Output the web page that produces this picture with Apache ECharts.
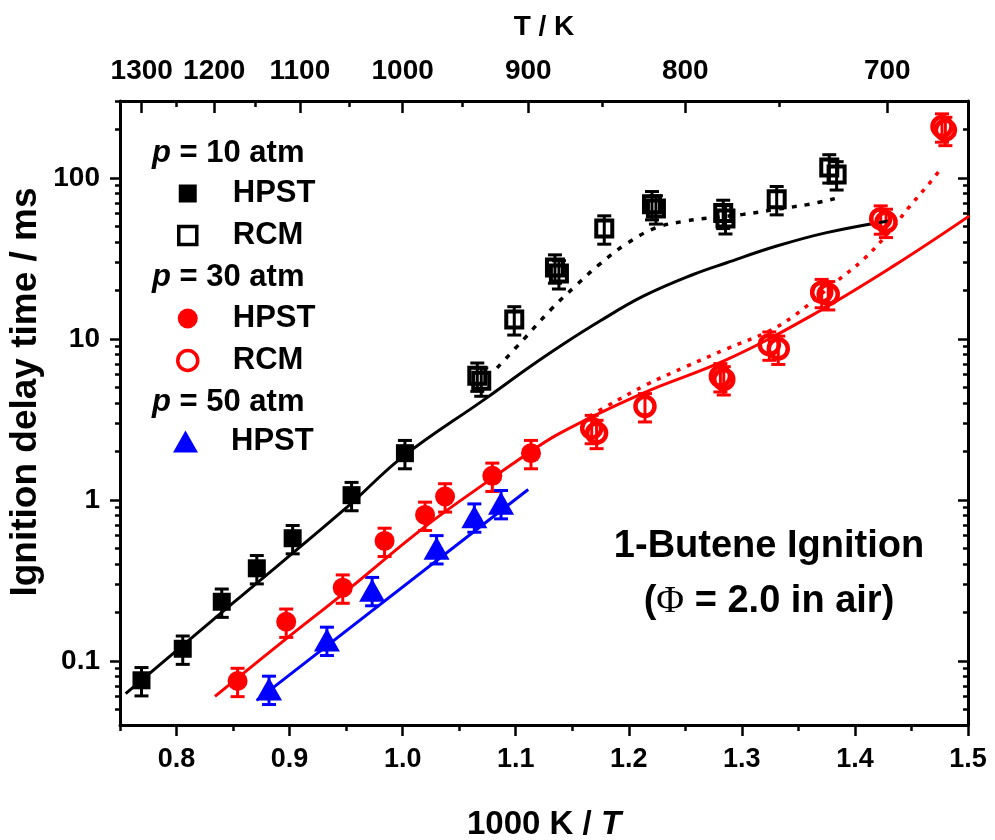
<!DOCTYPE html>
<html><head><meta charset="utf-8">
<script src="https://cdn.jsdelivr.net/npm/echarts@6/dist/echarts.min.js"></script>
<style>html,body{margin:0;padding:0;background:#fff}#c{width:995px;height:840px}</style>
</head><body><div id="c"></div>
<script>
const FONT = 'Liberation Sans';

// ---- tick definitions ----
const xMajorTicks = [0.8, 0.9, 1.0, 1.1, 1.2, 1.3, 1.4, 1.5];
const xMinorTicks = [0.75, 0.85, 0.95, 1.05, 1.15, 1.25, 1.35, 1.45];
const tempMajor = [1300, 1200, 1100, 1000, 900, 800, 700];
const tempMinor = [1250, 1150, 1050, 950, 850, 750];
const yMajorTicks = [0.1, 1, 10, 100];
const yMinorTicks = [0.05, 0.06, 0.07, 0.08, 0.09, 0.2, 0.3, 0.4, 0.5, 0.6, 0.7, 0.8, 0.9,
  2, 3, 4, 5, 6, 7, 8, 9, 20, 30, 40, 50, 60, 70, 80, 90, 200, 300];

// ---- experimental data (1000K/T, ignition delay in ms) ----
const hpst10X = [0.769, 0.8055, 0.840, 0.871, 0.9027, 0.9548, 1.002];
const hpst10Y = [0.0758, 0.119, 0.233, 0.376, 0.578, 1.07, 1.95];
const rcm10X = [1.066, 1.0695, 1.0987, 1.1347, 1.1382, 1.1783, 1.2205, 1.2240, 1.2835, 1.2855, 1.3308, 1.3773, 1.3838];
const rcm10Y = [5.9, 5.5, 13.2, 27.7, 25.5, 48.4, 68.5, 64.5, 60.5, 56, 73.6, 116, 105];
const hpst30X = [0.854, 0.897, 0.947, 0.984, 1.0198, 1.0375, 1.0793, 1.1135];
const hpst30Y = [0.075, 0.175, 0.285, 0.556, 0.807, 1.05, 1.41, 1.95];
const rcm30X = [1.1672, 1.1715, 1.2143, 1.2810, 1.2840, 1.3243, 1.3322, 1.3706, 1.3764, 1.4228, 1.4275, 1.4770, 1.4800];
const rcm30Y = [2.79, 2.6, 3.81, 5.85, 5.6, 9.2, 8.67, 19.5, 18.9, 55.8, 53.2, 208, 198];
const hpst50X = [0.8818, 0.933, 0.973, 1.030, 1.0634, 1.0870];
const hpst50Y = [0.067, 0.135, 0.275, 0.50, 0.787, 0.953];
const ERR_FRAC = 0.2;

// ---- model curves ----
const model10X = [0.755, 0.85, 0.95, 1.0, 1.0743, 1.1097, 1.1392, 1.1745, 1.2128, 1.257, 1.2866, 1.3308, 1.375, 1.4296];
const model10Y = [0.0627, 0.229, 0.891, 1.85, 4.30, 6.5, 9.0, 12.9, 18.4, 25.1, 29.7, 37.7, 45.7, 54.0];
const model10rcmX = [1.0835, 1.1068, 1.1311, 1.1547, 1.1735, 1.198, 1.2246, 1.2511, 1.2747, 1.3012, 1.3306, 1.3601, 1.3822];
const model10rcmY = [6.6, 9.9, 15.2, 21.9, 28.8, 39.0, 49.1, 54, 56.6, 59.3, 63.8, 68.6, 74.3];
const model30X = [0.834, 0.8974, 0.9475, 1.0198, 1.0793, 1.0997, 1.1392, 1.2128, 1.2866, 1.3603, 1.4339, 1.5012];
const model30Y = [0.0603, 0.138, 0.262, 0.682, 1.365, 1.72, 2.6, 4.61, 7.43, 13.8, 28.3, 58];
const model30rcmX = [1.165, 1.1804, 1.2158, 1.2512, 1.2866, 1.3219, 1.3455, 1.3838, 1.4074, 1.431, 1.4487, 1.4664, 1.4752];
const model30rcmY = [3.3, 3.81, 5.2, 6.75, 8.67, 11.0, 13.8, 22.8, 31.1, 46.7, 66.8, 93.5, 112];
const model50X = [0.8709, 1.111];
const model50Y = [0.0569, 1.16];

const pts = (xs, ys) => xs.map((x, i) => [x, ys[i]]);
const errs = (xs, ys) => xs.map((x, i) => [x, ys[i] * (1 - ERR_FRAC), ys[i] * (1 + ERR_FRAC)]);

function errRender(color) {
  return function (params, api) {
    const x = api.value(0);
    const pLo = api.coord([x, api.value(1)]);
    const pHi = api.coord([x, api.value(2)]);
    const hw = 7;
    const style = { stroke: color, lineWidth: 3 };
    return { type: 'group', children: [
      { type: 'line', shape: { x1: pLo[0], y1: pLo[1], x2: pHi[0], y2: pHi[1] }, style },
      { type: 'line', shape: { x1: pLo[0] - hw, y1: pLo[1], x2: pLo[0] + hw, y2: pLo[1] }, style },
      { type: 'line', shape: { x1: pHi[0] - hw, y1: pHi[1], x2: pHi[0] + hw, y2: pHi[1] }, style }
    ]};
  };
}
function errSeries(xs, ys, color) {
  return { type: 'custom', renderItem: errRender(color), data: errs(xs, ys), z: 1,
    encode: { x: 0, y: [1, 2] }, silent: true };
}

const lblStyle = { fontFamily: FONT, fontWeight: 'bold', color: '#000' };
const axisLineStyle = { show: true, onZero: false, lineStyle: { color: '#000', width: 3 } };
const noLine = { show: false };

const chart = echarts.init(document.getElementById('c'), null, { renderer: 'canvas' });
const legendText = { fontFamily: FONT, fontWeight: 'bold', fontSize: 31, color: '#000', lineHeight: 30, padding: [0, 0, 0, 31] };
const fmt = n => n.split(' ')[1];
const header = (txt, y) => ({ type: 'text', x: 152, y: y, style: { text: txt, fontFamily: FONT, fontWeight: 'bold', fontSize: 31, fill: '#000', verticalAlign: 'middle',
  rich: { i: { fontStyle: 'italic', fontWeight: 'bold', fontSize: 31, fontFamily: FONT } } } });

chart.setOption({
  animation: false,
  backgroundColor: '#fff',
  grid: { left: 120, right: 27, top: 101, bottom: 115, containLabel: false, outerBoundsMode: 'none' },
  xAxis: [
    { type: 'value', position: 'bottom', min: 0.75, max: 1.5,
      axisLine: axisLineStyle, splitLine: { show: false },
      axisTick: { customValues: xMajorTicks, inside: false, length: 11, lineStyle: { width: 2.5, color: '#000' } },
      axisLabel: Object.assign({ customValues: xMajorTicks, fontSize: 27, margin: 21, formatter: v => v.toFixed(1) }, lblStyle),
      name: '1000 K / {i|T}', nameLocation: 'middle', nameGap: 83,
      nameTextStyle: Object.assign({ fontSize: 33, rich: { i: { fontStyle: 'italic', fontWeight: 'bold', fontSize: 33, fontFamily: FONT } } }, lblStyle) },
    { type: 'value', position: 'bottom', min: 0.75, max: 1.5,
      axisLine: noLine, splitLine: { show: false }, axisLabel: { show: false },
      axisTick: { customValues: xMinorTicks, inside: false, length: 6, lineStyle: { width: 2.5, color: '#000' } } },
    { type: 'value', position: 'top', min: 0.75, max: 1.5,
      axisLine: axisLineStyle, splitLine: { show: false },
      axisTick: { customValues: tempMajor.map(T => 1000 / T), inside: true, length: 12, lineStyle: { width: 2.5, color: '#000' } },
      axisLabel: Object.assign({ customValues: tempMajor.map(T => 1000 / T), fontSize: 28, margin: 16, formatter: v => String(Math.round(1000 / v)) }, lblStyle),
      name: 'T / K', nameLocation: 'middle', nameGap: 60,
      nameTextStyle: Object.assign({ fontSize: 28 }, lblStyle) },
    { type: 'value', position: 'top', min: 0.75, max: 1.5,
      axisLine: noLine, splitLine: { show: false }, axisLabel: { show: false },
      axisTick: { customValues: tempMinor.map(T => 1000 / T), inside: true, length: 6, lineStyle: { width: 2.5, color: '#000' } } }
  ],
  yAxis: [
    { type: 'log', position: 'left', min: 0.04, max: 300,
      axisLine: axisLineStyle, splitLine: { show: false },
      axisTick: { customValues: yMajorTicks, inside: false, length: 10, lineStyle: { width: 2.5, color: '#000' } },
      axisLabel: Object.assign({ customValues: yMajorTicks, fontSize: 28, margin: 20, formatter: v => String(v) }, lblStyle) },
    { type: 'log', position: 'left', min: 0.04, max: 300,
      axisLine: noLine, splitLine: { show: false }, axisLabel: { show: false },
      axisTick: { customValues: yMinorTicks, inside: false, length: 5, lineStyle: { width: 2.5, color: '#000' } } },
    { type: 'log', position: 'right', min: 0.04, max: 300,
      axisLine: axisLineStyle, splitLine: { show: false }, axisLabel: { show: false },
      axisTick: { customValues: yMajorTicks, inside: true, length: 10, lineStyle: { width: 2.5, color: '#000' } } },
    { type: 'log', position: 'right', min: 0.04, max: 300,
      axisLine: noLine, splitLine: { show: false }, axisLabel: { show: false },
      axisTick: { customValues: yMinorTicks, inside: true, length: 5, lineStyle: { width: 2.5, color: '#000' } } }
  ],
  legend: [
    { orient: 'vertical', left: 177, top: 178, padding: 0, itemWidth: 18, itemHeight: 18, itemGap: 11,
      selectedMode: false, formatter: fmt, textStyle: legendText,
      data: [{ name: 'p10 HPST' }, { name: 'p10 RCM', itemStyle: { borderWidth: 3.5 } }] },
    { orient: 'vertical', left: 176, top: 303, padding: 0, itemWidth: 20, itemHeight: 20, itemGap: 11,
      selectedMode: false, formatter: fmt, textStyle: Object.assign({}, legendText, { padding: [0, 0, 0, 30] }),
      data: [{ name: 'p30 HPST' }, { name: 'p30 RCM', itemStyle: { borderWidth: 3.5 } }] },
    { orient: 'vertical', left: 173, top: 426, padding: 0, itemWidth: 25, itemHeight: 22, itemGap: 11,
      selectedMode: false, formatter: fmt, textStyle: Object.assign({}, legendText, { padding: [0, 0, 0, 28] }),
      data: [{ name: 'p50 HPST' }] }
  ],
  graphic: [
    header('{i|p} = 10 atm', 153),
    header('{i|p} = 30 atm', 277),
    header('{i|p} = 50 atm', 402),
    { type: 'text', x: 769, y: 547, style: { text: '1-Butene Ignition', fontFamily: FONT, fontWeight: 'bold', fontSize: 38, fill: '#000', align: 'center', verticalAlign: 'middle' } },
    { type: 'text', x: 769, y: 602, style: { text: '({f|Φ} = 2.0 in air)', fontFamily: FONT, fontWeight: 'bold', fontSize: 38, fill: '#000', align: 'center', verticalAlign: 'middle',
      rich: { f: { fontFamily: 'Liberation Serif', fontWeight: 'normal', fontSize: 38 } } } },
    { type: 'text', x: 26, y: 392, rotation: Math.PI / 2, style: { text: 'Ignition delay time / ms', fontFamily: FONT, fontWeight: 'bold', fontSize: 37, fill: '#000', align: 'center', verticalAlign: 'middle' } }
  ],
  series: [
    errSeries(hpst10X, hpst10Y, '#000'),
    errSeries(rcm10X, rcm10Y, '#000'),
    errSeries(hpst30X, hpst30Y, '#ff0000'),
    errSeries(rcm30X, rcm30Y, '#ff0000'),
    errSeries(hpst50X, hpst50Y, '#0000ff'),
    { type: 'line', name: 'model 10', data: pts(model10X, model10Y), smooth: 0.4, showSymbol: false, z: 2,
      lineStyle: { color: '#000', width: 3 }, silent: true },
    { type: 'line', name: 'model 10 rcm', data: pts(model10rcmX, model10rcmY), smooth: 0.4, showSymbol: false, z: 2,
      lineStyle: { color: '#000', width: 3.5, type: [5, 8] }, silent: true },
    { type: 'line', name: 'model 30', data: pts(model30X, model30Y), smooth: 0.4, showSymbol: false, z: 2,
      lineStyle: { color: '#ff0000', width: 3 }, silent: true },
    { type: 'line', name: 'model 30 rcm', data: pts(model30rcmX, model30rcmY), smooth: 0.4, showSymbol: false, z: 2,
      lineStyle: { color: '#ff0000', width: 3.5, type: [4, 7] }, silent: true },
    { type: 'line', name: 'model 50', data: pts(model50X, model50Y), showSymbol: false, z: 2,
      lineStyle: { color: '#0000ff', width: 3 }, silent: true },
    { type: 'scatter', name: 'p10 HPST', data: pts(hpst10X, hpst10Y), symbol: 'rect', symbolSize: 18, z: 3,
      itemStyle: { color: '#000', opacity: 1 } },
    { type: 'scatter', name: 'p10 RCM', data: pts(rcm10X, rcm10Y), symbol: 'rect', symbolSize: 16, z: 3,
      itemStyle: { color: 'rgba(0,0,0,0)', borderColor: '#000', borderWidth: 4, opacity: 1 } },
    { type: 'scatter', name: 'p30 HPST', data: pts(hpst30X, hpst30Y), symbol: 'circle', symbolSize: 20, z: 3,
      itemStyle: { color: '#ff0000', opacity: 1 } },
    { type: 'scatter', name: 'p30 RCM', data: pts(rcm30X, rcm30Y), symbol: 'circle', symbolSize: 19, z: 3,
      itemStyle: { color: 'rgba(0,0,0,0)', borderColor: '#ff0000', borderWidth: 4.5, opacity: 1 } },
    { type: 'scatter', name: 'p50 HPST', data: pts(hpst50X, hpst50Y), symbol: 'triangle', symbolSize: [26, 23], z: 3,
      itemStyle: { color: '#0000ff', opacity: 1 } }
  ]
});
</script>
</body></html>
